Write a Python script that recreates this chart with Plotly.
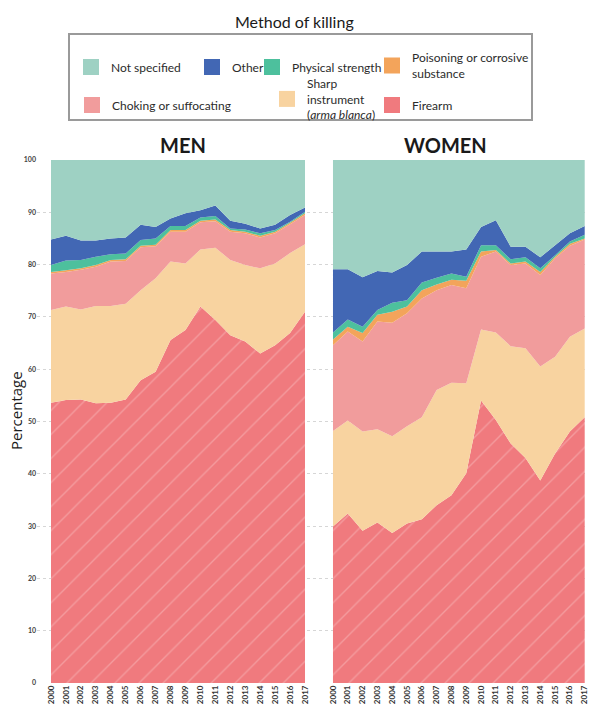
import plotly.graph_objects as go

W, H = 590, 713

years = list(range(2000, 2018))
year_labels = [str(y) for y in years]
y_ticks = [0, 10, 20, 30, 40, 50, 60, 70, 80, 90, 100]

categories = ["Firearm", "Sharp instrument (arma blanca)", "Choking or suffocating",
              "Poisoning or corrosive substance", "Physical strength", "Other", "Not specified"]

# MEN (percent of homicides by method)
men_firearm  = [53.6, 54.1, 54.2, 53.5, 53.6, 54.2, 57.9, 59.5, 65.6, 67.5, 72.0, 69.4, 66.5, 65.3, 63.0, 64.6, 66.9, 71.0]
men_sharp    = [17.7, 17.9, 17.2, 18.6, 18.5, 18.3, 17.2, 17.9, 15.0, 12.7, 10.9, 13.8, 14.4, 14.6, 16.3, 15.6, 15.3, 12.9]
men_choking  = [7.0, 6.6, 7.6, 7.5, 8.5, 8.2, 8.2, 6.1, 5.7, 6.1, 5.2, 5.1, 5.4, 6.1, 5.9, 5.8, 5.5, 5.6]
men_poison   = [0.3, 0.3, 0.3, 0.3, 0.3, 0.3, 0.3, 0.3, 0.3, 0.3, 0.3, 0.3, 0.3, 0.3, 0.3, 0.3, 0.3, 0.3]
men_physical = [1.3, 1.9, 1.6, 1.6, 1.1, 1.1, 1.1, 1.2, 0.8, 0.8, 0.6, 0.7, 0.3, 0.4, 0.5, 0.3, 0.2, 0.3]
men_other    = [4.9, 4.7, 3.7, 3.1, 3.0, 3.1, 2.9, 2.2, 1.4, 2.4, 1.4, 2.0, 1.5, 1.1, 0.9, 1.0, 1.3, 0.8]
men_notspec  = [15.2, 14.5, 15.4, 15.4, 15.0, 14.8, 12.4, 12.8, 11.2, 10.2, 9.6, 8.7, 11.6, 12.2, 13.1, 12.4, 10.5, 9.1]

# WOMEN
women_firearm  = [29.9, 32.4, 29.1, 30.7, 28.7, 30.5, 31.3, 34.0, 35.9, 40.1, 54.0, 50.3, 45.8, 43.0, 38.7, 43.9, 48.1, 50.8]
women_sharp    = [18.3, 17.8, 19.0, 17.8, 18.5, 18.6, 19.5, 22.0, 21.5, 17.2, 13.6, 16.7, 18.6, 21.0, 21.8, 18.5, 18.1, 17.0]
women_choking  = [16.4, 17.0, 17.2, 20.6, 21.7, 21.6, 22.7, 19.1, 18.7, 18.2, 13.9, 15.5, 15.5, 16.2, 17.5, 18.8, 17.4, 17.0]
women_poison   = [1.1, 0.9, 1.6, 1.3, 2.1, 1.3, 1.6, 1.1, 1.0, 1.4, 1.0, 0.3, 0.3, 0.4, 0.6, 0.3, 0.4, 0.2]
women_physical = [1.3, 1.4, 1.2, 0.9, 1.7, 1.2, 1.5, 1.3, 1.2, 0.8, 1.2, 0.9, 0.8, 0.8, 0.7, 0.3, 0.4, 0.7]
women_other    = [12.1, 9.6, 9.5, 7.5, 5.8, 6.7, 5.9, 5.0, 4.2, 5.2, 3.5, 4.8, 2.4, 2.0, 2.1, 1.9, 1.6, 1.7]
women_notspec  = [20.9, 20.9, 22.4, 21.2, 21.5, 20.1, 17.5, 17.5, 17.5, 17.1, 12.8, 11.5, 16.6, 16.6, 18.6, 16.3, 14.0, 12.6]

colors = {
    "Firearm": "#f07a7e",
    "Sharp instrument (arma blanca)": "#f8d3a0",
    "Choking or suffocating": "#f19c9c",
    "Poisoning or corrosive substance": "#f3a45b",
    "Physical strength": "#4dc09d",
    "Other": "#4267b4",
    "Not specified": "#9ed1c3",
}

men = [men_firearm, men_sharp, men_choking, men_poison, men_physical, men_other, men_notspec]
women = [women_firearm, women_sharp, women_choking, women_poison, women_physical, women_other, women_notspec]

fig = go.Figure()

def add_stack(series, xa, ya, group):
    for cat, vals in zip(categories, series):
        kw = {}
        if cat == "Firearm":
            kw["fillpattern"] = dict(shape="/", bgcolor=colors[cat],
                                     fgcolor="rgba(255,255,255,0.5)", size=17, solidity=0.08)
        fig.add_trace(go.Scatter(
            x=years, y=vals, mode="none", stackgroup=group,
            fillcolor=colors[cat], line=dict(width=0),
            xaxis=xa, yaxis=ya, showlegend=False, name=cat, hoverinfo="skip", **kw))

add_stack(men, "x", "y", "men")
add_stack(women, "x2", "y2", "women")

# Legend entries (one legend per entry, placed like the reference)
legend_items = [
    ("Not specified", "Not specified", 71, 67),
    ("Other", "Other", 192, 67),
    ("Physical strength", "Physical strength", 252, 67),
    ("Poisoning or corrosive substance", "Poisoning or corrosive<br>substance", 372, 66),
    ("Choking or suffocating", "Choking or suffocating", 72, 105),
    ("Sharp instrument (arma blanca)", "Sharp<br>instrument<br>(<i>arma blanca</i>)", 267, 99),
    ("Firearm", "Firearm", 372, 105),
]

legend_font = dict(family="Lato", size=12, color="#2b2b2b")
for i, (cat, label_txt, lx, ly) in enumerate(legend_items):
    lname = "legend" if i == 0 else f"legend{i+1}"
    fig.add_trace(go.Scatter(
        x=[None], y=[None], mode="markers", name=label_txt,
        marker=dict(symbol="square", size=18, color=colors[cat]),
        legend=lname, showlegend=True, hoverinfo="skip"))
    fig.update_layout(**{lname: dict(
        x=lx / W, y=1 - ly / H, xanchor="left", yanchor="middle",
        bgcolor="rgba(0,0,0,0)", borderwidth=0, font=legend_font,
        itemsizing="trace", tracegroupgap=0)})

px_year_m = (305 - 51) / 17
px_year_w = (585 - 333) / 17

axis_common = dict(showline=False, zeroline=False, ticks="", fixedrange=True, automargin=False)
xtickfont = dict(family="Lato", size=8, color="#333", weight="bold")

fig.update_layout(
    width=W, height=H,
    margin=dict(l=0, r=0, t=0, b=0, autoexpand=False),
    paper_bgcolor="white", plot_bgcolor="white",
    showlegend=True,
    xaxis=dict(domain=[37 / W, 319 / W],
               range=[2000 - 14 / px_year_m, 2017 + 14 / px_year_m],
               tickvals=years, ticktext=year_labels, tickangle=-90,
               tickfont=xtickfont, ticklabeloverflow="allow",
               showgrid=False, anchor="y", **axis_common),
    xaxis2=dict(domain=[319 / W, 585 / W],
                range=[2000 - 14 / px_year_w, 2017.02],
                tickvals=years, ticktext=year_labels, tickangle=-90,
                tickfont=xtickfont, ticklabeloverflow="allow",
                showgrid=False, anchor="y2", **axis_common),
    yaxis=dict(domain=[1 - 683 / H, 1 - 160 / H], range=[0, 100],
               tickvals=y_ticks, ticktext=[str(v) for v in y_ticks],
               tickfont=dict(family="Lato", size=7, color="#444", weight="bold"),
               showgrid=True, gridcolor="#d6d6d6", griddash="dot", gridwidth=1,
               anchor="x", **axis_common),
    yaxis2=dict(domain=[1 - 683 / H, 1 - 160 / H], range=[0, 100],
                tickvals=y_ticks, showticklabels=False,
                showgrid=True, gridcolor="#d6d6d6", griddash="dot", gridwidth=1,
                anchor="x2", **axis_common),
)

# Legend frame and texts
fig.add_shape(type="rect", xref="paper", yref="paper",
              x0=69 / W, x1=532 / W, y0=1 - 120 / H, y1=1 - 34 / H,
              line=dict(color="#9a9a9a", width=2), fillcolor="rgba(0,0,0,0)")

def label(text, x, y, size, weight="normal", family="Lato", angle=0):
    fig.add_annotation(text=text, xref="paper", yref="paper",
                       x=x / W, y=1 - y / H, xanchor="center", yanchor="middle",
                       showarrow=False, textangle=angle,
                       font=dict(family=family, size=size, color="#1a1a1a", weight=weight))

label("Method of killing", 294, 22, 16)
label("MEN", 183, 145, 20, weight="bold")
label("WOMEN", 445, 145, 20, weight="bold")
label("Percentage", 16, 411, 15, family="Open Sans", angle=-90)

fig.write_html("out.html", config={"displayModeBar": False},
               post_script="document.body.style.margin='0px';document.body.style.overflow='hidden';")
